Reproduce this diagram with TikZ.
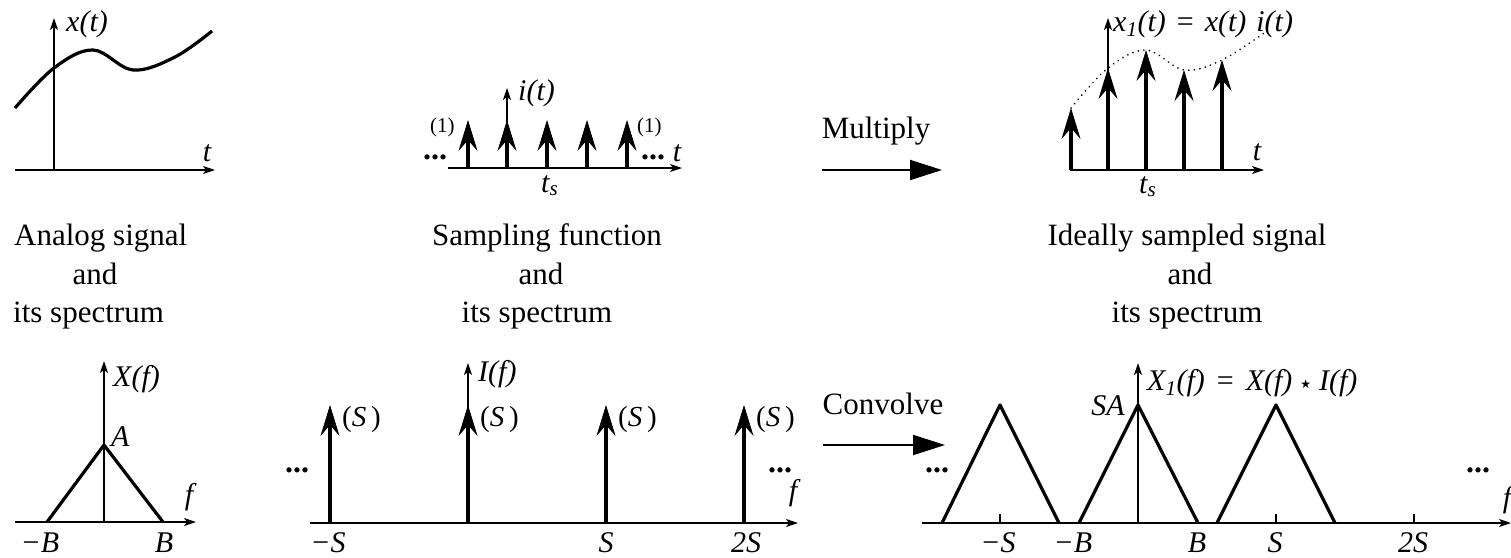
\documentclass[tikz,border=0pt]{standalone}
\usepackage{fontspec}
\setmainfont{Liberation Serif}
\newfontfamily\symfont{DejaVu Sans}
\usetikzlibrary{arrows.meta}
\tikzset{
  axisline/.style={line width=1.4pt, -{Stealth[length=12pt,width=8pt,inset=3pt]}},
  imp/.style={line width=4pt, -{Stealth[length=31pt,width=19pt,inset=11pt,line width=0.8pt]}},
  sig/.style={line width=3.2pt, line join=round},
  oparrow/.style={line width=2pt, -{Triangle[length=32pt,width=20pt]}},
  lbl/.style={font=\fontsize{30}{36}\selectfont\itshape, inner sep=0pt},
  txt/.style={font=\fontsize{31}{38}\selectfont, inner sep=0pt},
  smalllbl/.style={font=\fontsize{21}{25}\selectfont, inner sep=0pt},
  ellip/.style={font=\fontsize{32}{36}\selectfont\bfseries, inner sep=0pt},
  tickmark/.style={line width=1.4pt},
  dotcurve/.style={line width=1.8pt, dash pattern=on 0.1pt off 5.5pt, line cap=round},
}
\begin{document}
\begin{tikzpicture}[x=1pt,y=-1pt]
\useasboundingbox (0,0) rectangle (1511,557);

% ---------- top left: analog signal ----------
\coordinate (tlO) at (54,170);
\coordinate (tlL) at (15,170);
\coordinate (tlR) at (215,170);
\coordinate (tlT) at (54,18);
\draw[axisline] (tlL) -- (tlR);
\draw[axisline] (tlO) -- (tlT);
\draw[sig] plot[smooth,tension=0.6] coordinates {(15,108) (54,68) (93,50) (133,70) (175,57) (212,31)};
\node[lbl,anchor=base west] (xt) at (66,31) {x(t)};
\node[lbl] (tl-t) at (207,153) {t};

% ---------- top middle: sampling function ----------
\coordinate (tmL) at (448,168);
\coordinate (tmR) at (682,168);
\coordinate (tmO) at (507,168);
\coordinate (tmT) at (507,88);
\draw[axisline] (tmL) -- (tmR);
\draw[axisline] (tmO) -- (tmT);
\foreach \x in {468,507,547,587,627} \draw[imp] (\x,168) -- (\x,120);
\node[lbl,anchor=base west] (it) at (518,100) {i(t)};
\node[smalllbl,anchor=base west] (one1) at (430,132) {(1)};
\node[smalllbl,anchor=base west] (one2) at (637,132) {(1)};
\node[ellip] (tmdl) at (435,157) {...};
\node[ellip] (tmdr) at (653,157) {...};
\node[lbl] (tm-t) at (677,153) {t};
\node[lbl,anchor=base west] (tm-ts) at (541,192) {t\textsubscript{s}};

% ---------- multiply ----------
\node[txt,anchor=base] (mul) at (876,138) {Multiply};
\coordinate (mulA) at (822,170);
\coordinate (mulB) at (942,170);
\draw[oparrow] (mulA) -- (mulB);

% ---------- top right: ideally sampled ----------
\coordinate (trL) at (1070,170);
\coordinate (trR) at (1264,170);
\coordinate (trO) at (1108,170);
\coordinate (trT) at (1108,18);
\draw[axisline] (trL) -- (trR);
\draw[axisline] (trO) -- (trT);
\foreach \x/\h in {1071/108,1108/68,1146/50,1184/70,1222/60} \draw[imp] (\x,170) -- (\x,\h);
\draw[dotcurve] plot[smooth,tension=0.6] coordinates {(1071,108) (1108,68) (1146,50) (1184,70) (1222,60) (1264,33)};
\node[lbl,anchor=base west] (x1t) at (1113,31) {x\textsubscript{1}(t)\hspace{11pt}{\upshape =}\hspace{11pt}x(t)\hspace{10pt}i(t)};
\node[lbl] (tr-t) at (1257,152) {t};
\node[lbl,anchor=base west] (tr-ts) at (1139,193) {t\textsubscript{s}};

% ---------- captions ----------
\node[txt,anchor=base west] (c1a) at (14,245) {Analog signal};
\node[txt,anchor=base] (c1b) at (95,284) {and};
\node[txt,anchor=base west] (c1c) at (13,322) {its spectrum};
\node[txt,anchor=base] (c2a) at (547,245) {Sampling function};
\node[txt,anchor=base] (c2b) at (541,284) {and};
\node[txt,anchor=base] (c2c) at (537,322) {its spectrum};
\node[txt,anchor=base] (c3a) at (1187,245) {Ideally sampled signal};
\node[txt,anchor=base] (c3b) at (1190,284) {and};
\node[txt,anchor=base] (c3c) at (1187,322) {its spectrum};

% ---------- bottom left: X(f) ----------
\coordinate (blL) at (15,522);
\coordinate (blR) at (196,522);
\coordinate (blO) at (104,522);
\coordinate (blT) at (104,361);
\draw[axisline] (blL) -- (blR);
\draw[axisline] (blO) -- (blT);
\draw[sig] (47,522) -- (104,445) -- (163,522);
\node[lbl,anchor=base west] (Xf) at (113,386) {X(f)};
\node[lbl,anchor=base west] (Albl) at (111,446) {A};
\node[lbl] (bl-f) at (189,497) {f};
\node[lbl] (bl-mB) at (40,543) {−B};
\node[lbl] (bl-B) at (164,543) {B};

% ---------- bottom middle: I(f) ----------
\coordinate (bmL) at (310,523);
\coordinate (bmR) at (798,523);
\coordinate (bmO) at (468,523);
\coordinate (bmT) at (468,363);
\draw[axisline] (bmL) -- (bmR);
\draw[axisline] (bmO) -- (bmT);
\foreach \x in {330,468,606,744} {
  \draw[imp] (\x,523) -- (\x,405);
  \node[lbl,anchor=base west,font=\fontsize{29}{34}\selectfont] at (\x+12,426) {(\textit{S}\,)};
}
\node[lbl,anchor=base west] (If) at (478,381) {I(f)};
\node[ellip] (bmdl) at (297,470) {...};
\node[ellip] (bmdr) at (780,470) {...};
\node[lbl] (bm-f) at (793,493) {f};
\node[lbl] (bm-mS) at (328,543) {−S};
\node[lbl] (bm-S) at (606,543) {S};
\node[lbl] (bm-2S) at (746,543) {2S};

% ---------- convolve ----------
\node[txt,anchor=base] (conv) at (883,414) {Convolve};
\coordinate (convA) at (823,445);
\coordinate (convB) at (945,445);
\draw[oparrow] (convA) -- (convB);

% ---------- bottom right: X1(f) ----------
\coordinate (brL) at (922,523);
\coordinate (brR) at (1511,523);
\coordinate (brO) at (1138,523);
\coordinate (brT) at (1138,363);
\draw[axisline] (brL) -- (brR);
\draw[axisline] (brO) -- (brT);
\draw[sig] (942,523) -- (1000,405) -- (1059,523);
\draw[sig] (1079,523) -- (1138,405) -- (1198,523);
\draw[sig] (1217,523) -- (1276,405) -- (1335,523);
\foreach \x in {1000,1276,1414} \draw[tickmark] (\x,523) -- (\x,514);
\node[lbl,anchor=base east] (SA) at (1125,415) {SA};
\node[lbl,anchor=base west] (X1f) at (1147,390) {X\textsubscript{1}(f)\hspace{12pt}{\upshape =}\hspace{12pt}X(f)\hspace{8pt}\raisebox{2pt}{\upshape\symfont\fontsize{12}{12}\selectfont ★}\hspace{8pt}I(f)};
\node[ellip] (brdl) at (937,470) {...};
\node[ellip] (brdr) at (1478,470) {...};
\node[lbl] (br-f) at (1507,500) {f};
\node[lbl] (br-mS) at (998,543) {−S};
\node[lbl] (br-mB) at (1073,543) {−B};
\node[lbl] (br-B) at (1197,543) {B};
\node[lbl] (br-S) at (1275,543) {S};
\node[lbl] (br-2S) at (1413,543) {2S};
\end{tikzpicture}
\end{document}
